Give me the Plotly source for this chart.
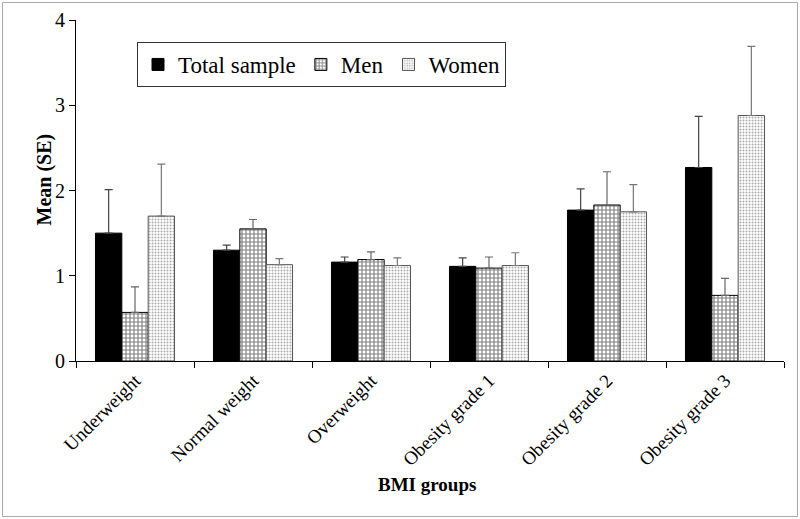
import plotly.graph_objects as go

categories = ["Underweight", "Normal weight", "Overweight", "Obesity grade 1", "Obesity grade 2", "Obesity grade 3"]
total_vals = [1.50, 1.30, 1.16, 1.11, 1.77, 2.27]
total_err = [0.51, 0.06, 0.06, 0.10, 0.25, 0.60]
men_vals = [0.57, 1.55, 1.19, 1.09, 1.83, 0.77]
men_err = [0.30, 0.11, 0.09, 0.13, 0.39, 0.20]
women_vals = [1.70, 1.13, 1.12, 1.12, 1.75, 2.88]
women_err = [0.61, 0.07, 0.09, 0.15, 0.32, 0.81]
y_ticks = [0, 1, 2, 3, 4]

FONT = "Liberation Serif, serif"

fig = go.Figure()
fig.add_trace(go.Bar(
    name="Total sample", x=categories, y=total_vals,
    marker=dict(color="black", line=dict(color="black", width=1)),
    error_y=dict(type="data", array=total_err, arrayminus=[0]*6, symmetric=False,
                 color="#444", thickness=1.2, width=4),
))
fig.add_trace(go.Bar(
    name="Men", x=categories, y=men_vals,
    marker=dict(color="white", line=dict(color="black", width=1),
                pattern=dict(shape="+", fgcolor="black", bgcolor="white", size=4, solidity=0.5)),
    error_y=dict(type="data", array=men_err, arrayminus=[0]*6, symmetric=False,
                 color="#666", thickness=1.2, width=4),
))
fig.add_trace(go.Bar(
    name="Women", x=categories, y=women_vals,
    marker=dict(color="white", line=dict(color="#555", width=1),
                pattern=dict(shape=".", fgcolor="#555", bgcolor="white", size=3, solidity=0.35)),
    error_y=dict(type="data", array=women_err, arrayminus=[0]*6, symmetric=False,
                 color="#777", thickness=1.2, width=4),
))

W, H = 800, 519
L, R, T, B = 76, 16, 20, 158
pw, ph = W - L - R, H - T - B

def px_x(p):
    return (p - L) / pw

def px_y(p):
    return (H - B - p) / ph

fig.update_layout(
    width=W, height=H,
    margin=dict(l=L, r=R, t=T, b=B, autoexpand=False),
    paper_bgcolor="white", plot_bgcolor="white",
    barmode="group", bargap=0.33, bargroupgap=0,
    font=dict(family=FONT, color="black", size=19),
    showlegend=True,
    legend=dict(
        orientation="h", x=px_x(137), y=px_y(42), xanchor="left", yanchor="top",
        bordercolor="#333", borderwidth=1, bgcolor="white",
        font=dict(family=FONT, size=23, color="black"),
        traceorder="normal",
    ),
    xaxis=dict(
        automargin=False,
        showline=True, linecolor="black", linewidth=1,
        ticks="outside", tickson="boundaries", ticklen=6, tickcolor="black",
        tickangle=-45, tickfont=dict(family=FONT, size=19),
        showgrid=False,
    ),
    yaxis=dict(
        automargin=False,
        range=[0, 4], tickvals=y_ticks, showline=True, linecolor="black", linewidth=1,
        ticks="outside", ticklen=6, tickcolor="black", showgrid=False, zeroline=False,
        tickfont=dict(family=FONT, size=20),
    ),
    shapes=[dict(type="rect", xref="paper", yref="paper",
                 x0=px_x(2.5), x1=px_x(797.5), y0=px_y(516.5), y1=px_y(2.5),
                 line=dict(color="#aaa", width=1), fillcolor="rgba(0,0,0,0)", layer="below")],
    annotations=[
        dict(text="<b>Mean (SE)</b>", xref="paper", yref="paper", x=px_x(30), y=px_y(180),
             textangle=-90, showarrow=False, font=dict(family=FONT, size=20)),
        dict(text="<b>BMI groups</b>", xref="paper", yref="paper", x=px_x(427), y=px_y(497),
             showarrow=False, font=dict(family=FONT, size=19)),
    ],
)

fig.write_html("out.html", config={"displayModeBar": False},
               post_script="document.body.style.margin='0';")
